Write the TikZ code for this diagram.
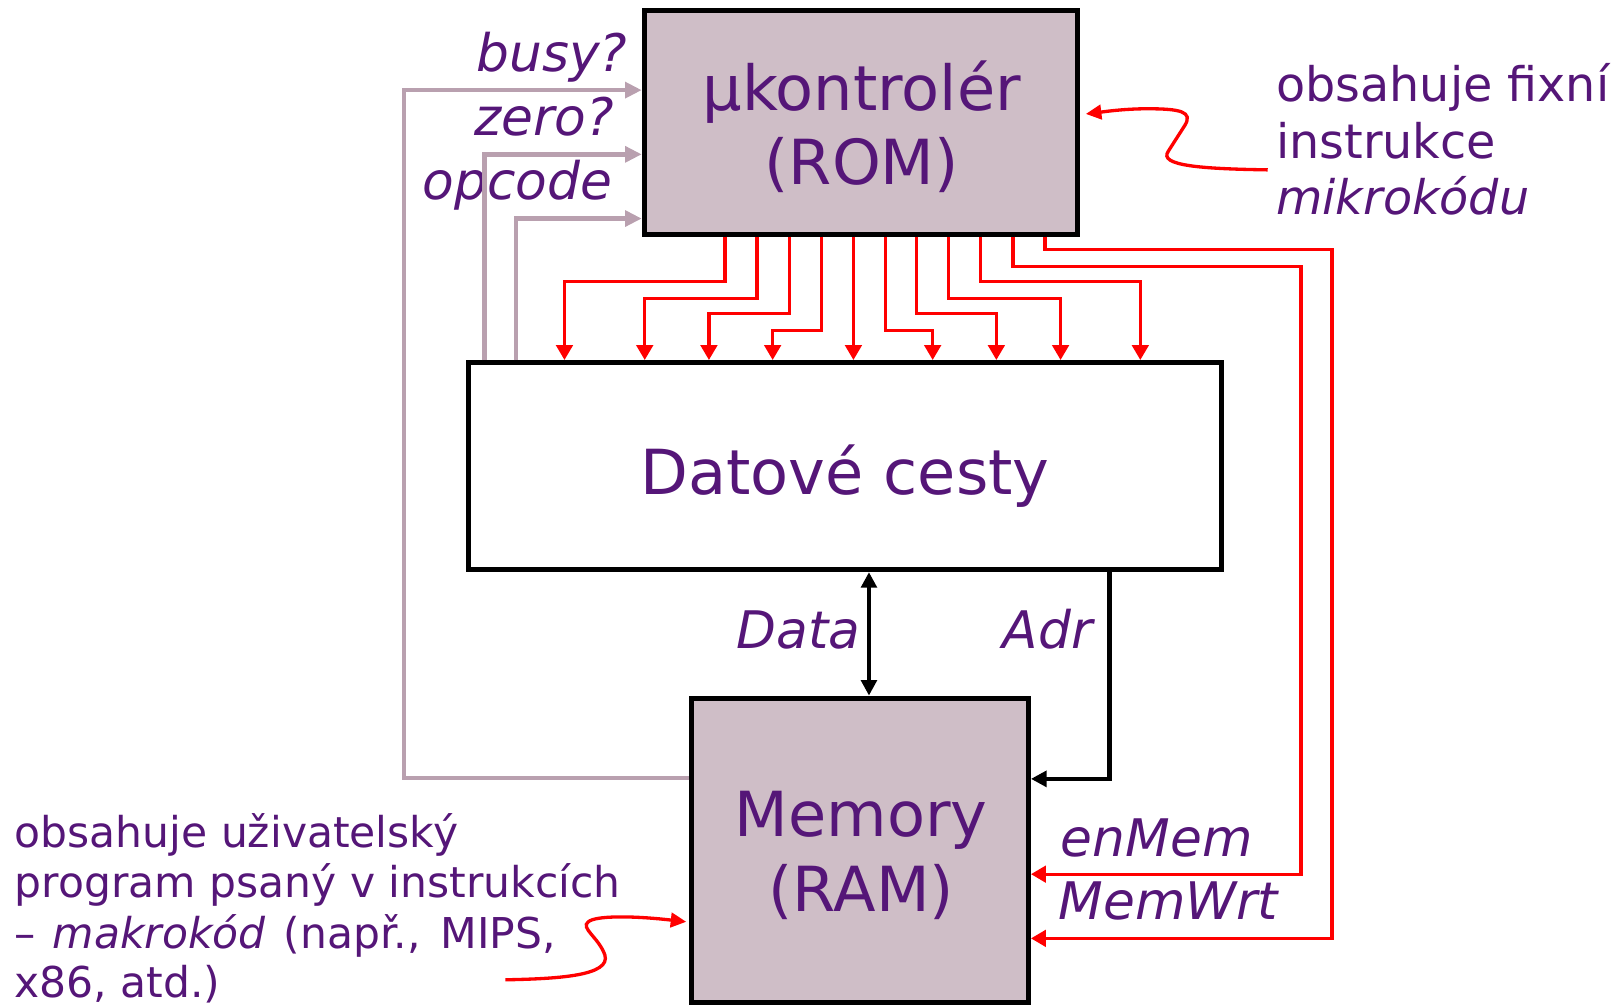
\documentclass[tikz,border=0pt]{standalone}
\usepackage{fontspec}
\setmainfont{DejaVu Sans}
\usetikzlibrary{arrows.meta}

\definecolor{txt}{RGB}{85,22,120}
\definecolor{boxfill}{RGB}{207,190,199}
\definecolor{flag}{RGB}{185,160,175}
\definecolor{sig}{RGB}{255,0,0}

\begin{document}
\begin{tikzpicture}[x=1pt,y=-1pt,
  unitbox/.style={draw=black, line width=4.8pt, inner sep=0pt},
  big/.style={text=txt, font=\fontsize{60}{71}\selectfont, inner sep=0pt, anchor=base},
  lbl/.style={text=txt, font=\fontsize{50}{60}\selectfont\itshape, inner sep=0pt},
  note/.style={text=txt, font=\fontsize{46}{55}\selectfont, inner sep=0pt, anchor=base west},
  smallnote/.style={text=txt, font=\fontsize{41}{49}\selectfont, inner sep=0pt, anchor=base west},
  ctrl/.style={draw=sig, line width=3.2pt, -{Triangle[width=16pt,length=14.5pt]}},
  status/.style={draw=flag, line width=4.4pt, -{Triangle[width=15pt,length=16pt]}},
  bus/.style={draw=black, line width=4.4pt},
  pointer/.style={draw=sig, line width=3.2pt, -{Triangle[width=14pt,length=15pt]}}
]
\useasboundingbox (0,0) rectangle (1568,970);

% the three blocks
\node[unitbox, fill=boxfill, minimum width=418pt, minimum height=216pt] (rom) at (831,118) {};
\node[unitbox, fill=white, minimum width=727pt, minimum height=200pt] (dp) at (815.5,450) {};
\node[unitbox, fill=boxfill, minimum width=325pt, minimum height=294pt] (mem) at (830.5,821) {};

\node[big] (romA) at (832,107) {μkontrolér};
\node[big] (romB) at (832,178) {(ROM)};
\node[big] (dpA) at (816,477) {Datové cesty};
\node[big] (memA) at (831.5,808) {Memory};
\node[big] (memB) at (831.5,880) {(RAM)};

% status inputs of the controller
\node[lbl, anchor=base east] (busy) at (606,69) {busy?};
\node[lbl, anchor=base east] (zero) at (593,131) {zero?};
\node[lbl, anchor=base east] (opc) at (591,193) {opcode};

\draw[status] (mem.west |- 0,751) -| (390,87) -- (rom.west |- 0,87);
\draw[status] (468,0 |- dp.north) |- (rom.west |- 0,149);
\draw[status] (498,0 |- dp.north) |- (rom.west |- 0,211);

% control lines into the datapath
\draw[ctrl] (700,0 |- rom.south) -- (700,272) -| (545,0 |- dp.north);
\draw[ctrl] (731,0 |- rom.south) -- (731,288) -| (622.5,0 |- dp.north);
\draw[ctrl] (762,0 |- rom.south) -- (762,303) -| (684.5,0 |- dp.north);
\draw[ctrl] (793,0 |- rom.south) -- (793,319) -| (746,0 |- dp.north);
\draw[ctrl] (824,0 |- rom.south) -- (824,0 |- dp.north);
\draw[ctrl] (855,0 |- rom.south) -- (855,319) -| (900.5,0 |- dp.north);
\draw[ctrl] (885,0 |- rom.south) -- (885,303) -| (962,0 |- dp.north);
\draw[ctrl] (916,0 |- rom.south) -- (916,288) -| (1024,0 |- dp.north);
\draw[ctrl] (947,0 |- rom.south) -- (947,272) -| (1101,0 |- dp.north);

% memory control lines
\draw[ctrl] (978,0 |- rom.south) |- (1256,257) |- (mem.east |- 0,844);
\draw[ctrl] (1009,0 |- rom.south) |- (1286,241) |- (mem.east |- 0,906);
\node[lbl, anchor=base west] (enmem) at (1024,827) {enMem};
\node[lbl, anchor=base west] (memwrt) at (1022,888) {MemWrt};

% data and address buses
\draw[bus, {Triangle[width=15pt,length=15pt]}-{Triangle[width=15pt,length=15pt]}]
  (839,0 |- dp.south) -- (839,0 |- mem.north);
\draw[bus, -{Triangle[width=15pt,length=15pt]}] (1071,0 |- dp.south) |- (mem.east |- 0,752);
\node[lbl, anchor=base east] (data) at (831,626) {Data};
\node[lbl, anchor=base east] (adr) at (1055,626) {Adr};

% annotation of the controller
\node[note] (n1) at (1232,98) {obsahuje fixní};
\node[note] (n2) at (1232,153) {instrukce};
\node[note] (n3) at (1232,207) {\itshape mikrokódu};
\coordinate (romnote) at (1224,164);
\draw[pointer] (romnote) .. controls (1160,163) and (1118,160) .. (1128,146)
  -- (1144,121) .. controls (1152,108) and (1140,105) .. (1108,105)
  .. controls (1085,105) and (1065,108) .. ([xshift=6pt,yshift=8pt]rom.east);

% annotation of the memory
\node[smallnote] (m1) at (14,818) {obsahuje uživatelský};
\node[smallnote] (m2) at (14,867) {program psaný v instrukcích};
\node[smallnote] (m3) at (14,916) {–\hspace{0.4em}\textit{makrokód}\hspace{0.1em} (např.,\hspace{0.15em} MIPS,};
\node[smallnote] (m4) at (14,963) {x86, atd.)};
\coordinate (ramnote) at (488,946);
\draw[pointer] (ramnote) .. controls (540,945) and (590,942) .. (584,922)
  .. controls (578,905) and (560,896) .. (568,890)
  .. controls (575,884) and (610,884) .. ([xshift=-3pt,yshift=-69pt]mem.west);
\end{tikzpicture}
\end{document}
